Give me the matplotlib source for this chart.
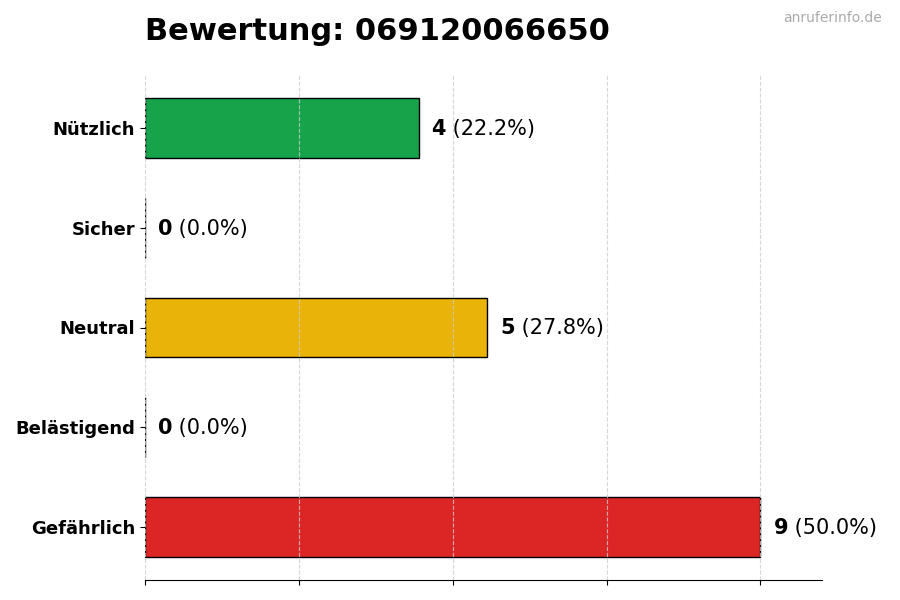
import numpy as np
import matplotlib.pyplot as plt

categories = ["Nützlich", "Sicher", "Neutral", "Belästigend", "Gefährlich"]
counts = [4, 0, 5, 0, 9]
colors = ["#16a34a", "#9ca3af", "#eab308", "#f97316", "#dc2626"]
title = "Bewertung: 069120066650"
watermark = "anruferinfo.de"

total = sum(counts)
y = np.arange(len(categories))[::-1]

fig = plt.figure(figsize=(9, 6), dpi=100)
ax = fig.add_axes([145 / 900, 20 / 600, 677 / 900, 505 / 600])

ax.barh(y, counts, height=0.6, color=colors, edgecolor="black", linewidth=1)
ax.set_yticks(y)
ax.set_yticklabels(categories, fontsize=13, fontweight="bold")

xmax = max(counts)
ax.set_xlim(0, xmax * 1.1)
ax.set_xticks(np.linspace(0, xmax, 5))
ax.set_xticklabels([])
ax.grid(True, axis="x", linestyle="--", color="0.8", alpha=0.8)

for s in ["top", "right", "left"]:
    ax.spines[s].set_visible(False)

for yi, c in zip(y, counts):
    pct = c / total * 100
    t = ax.text(c + 0.19, yi - 0.01, str(c), fontsize=15, fontweight="bold",
                va="center")
    ax.annotate(" (%.1f%%)" % pct, xy=(1, 0), xycoords=t, va="bottom",
                fontsize=15)

fig.text(145 / 900, 1 - 32 / 600, title, fontsize=22, fontweight="bold",
         va="center", ha="left")
fig.text(882 / 900, 1 - 18 / 600, watermark, fontsize=10, color="#aaaaaa",
         va="center", ha="right")

plt.savefig("out.png")
